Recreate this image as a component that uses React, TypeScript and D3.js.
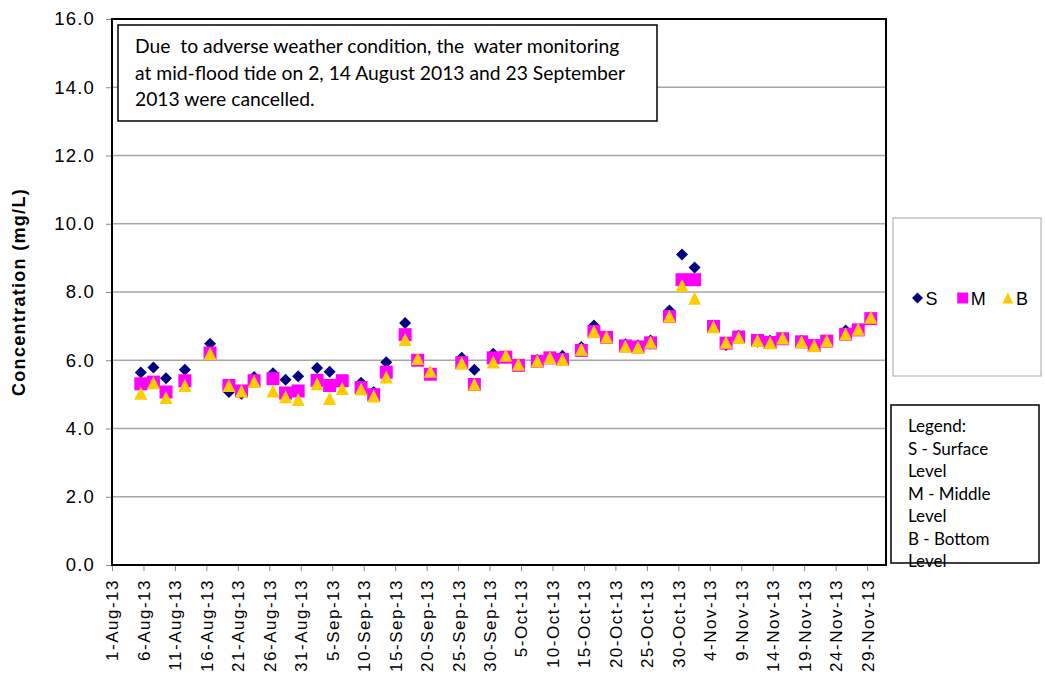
import React, { useRef, useEffect } from "react";
import * as d3 from "d3";

// sampling dates (monitoring at mid-flood tide, Mon/Wed/Fri)
const dates = [
  "2013-08-05", "2013-08-07", "2013-08-09", "2013-08-12", "2013-08-16",
  "2013-08-19", "2013-08-21", "2013-08-23", "2013-08-26", "2013-08-28",
  "2013-08-30", "2013-09-02", "2013-09-04", "2013-09-06", "2013-09-09",
  "2013-09-11", "2013-09-13", "2013-09-16", "2013-09-18", "2013-09-20",
  "2013-09-25", "2013-09-27", "2013-09-30", "2013-10-02", "2013-10-04",
  "2013-10-07", "2013-10-09", "2013-10-11", "2013-10-14", "2013-10-16",
  "2013-10-18", "2013-10-21", "2013-10-23", "2013-10-25", "2013-10-28",
  "2013-10-30", "2013-11-01", "2013-11-04", "2013-11-06", "2013-11-08",
  "2013-11-11", "2013-11-13", "2013-11-15", "2013-11-18", "2013-11-20",
  "2013-11-22", "2013-11-25", "2013-11-27", "2013-11-29",
];
const sampleHour = 14;

const surface = [
  5.64, 5.79, 5.47, 5.72, 6.48, 5.07, 5.02, 5.51, 5.62, 5.43,
  5.53, 5.77, 5.66, 5.4, 5.34, 5.07, 5.94, 7.09, 6.02, 5.62,
  6.07, 5.72, 6.19, 6.1, 5.87, 6.01, 6.09, 6.13, 6.39, 7.02,
  6.68, 6.47, 6.43, 6.58, 7.46, 9.1, 8.72, 7.02, 6.45, 6.72,
  6.54, 6.57, 6.64, 6.57, 6.44, 6.56, 6.87, 6.9, 7.25,
];
const middle = [
  5.31, 5.36, 5.07, 5.4, 6.21, 5.26, 5.1, 5.4, 5.46, 5.04,
  5.1, 5.41, 5.26, 5.4, 5.2, 4.99, 5.65, 6.75, 6.0, 5.59,
  5.93, 5.29, 6.07, 6.09, 5.85, 5.97, 6.07, 6.02, 6.29, 6.84,
  6.67, 6.42, 6.39, 6.51, 7.28, 8.36, 8.36, 6.99, 6.5, 6.68,
  6.58, 6.52, 6.63, 6.54, 6.43, 6.56, 6.76, 6.89, 7.22,
];
const bottom = [
  5.03, 5.34, 4.91, 5.26, 6.2, 5.26, 5.1, 5.38, 5.1, 4.93,
  4.85, 5.31, 4.88, 5.17, 5.16, 4.95, 5.51, 6.61, 6.05, 5.68,
  5.92, 5.3, 5.95, 6.15, 5.88, 5.98, 6.08, 6.02, 6.32, 6.84,
  6.68, 6.41, 6.38, 6.53, 7.29, 8.19, 7.82, 6.98, 6.53, 6.67,
  6.58, 6.51, 6.65, 6.54, 6.43, 6.57, 6.77, 6.91, 7.26,
];

const yTicks = [0, 2, 4, 6, 8, 10, 12, 14, 16];
const seriesNames = ["S", "M", "B"];
const noteLines = [
  "Due  to adverse weather condition, the  water monitoring",
  "at mid-flood tide on 2, 14 August 2013 and 23 September",
  "2013 were cancelled.",
];
const legendLines = [
  "Legend:",
  "S - Surface",
  "Level",
  "M - Middle",
  "Level",
  "B - Bottom",
  "Level",
];

const colors = { S: "#000080", M: "#FF00FF", B: "#FFCC00" };

const markerPath = (name, r) => {
  if (name === "S") return `M0,${-r}L${r},0L0,${r}L${-r},0Z`;
  if (name === "M") return `M${-r},${-r}H${r}V${r}H${-r}Z`;
  return `M0,${-r}L${r},${r}L${-r},${r}Z`;
};

const Chart = () => {
  const svgRef = useRef<SVGSVGElement>(null);

  useEffect(() => {
    const W = 1045;
    const H = 677;
    const plot = { left: 112, right: 886, top: 19, bottom: 565 };
    const arial = "'Liberation Sans', Arial, sans-serif";
    const calibri = "Lato, 'Open Sans', sans-serif";

    const svg = d3.select(svgRef.current).attr("width", W).attr("height", H);
    svg.selectAll("*").remove();

    const parse = d3.timeParse("%Y-%m-%d");
    const times = dates.map((d) => d3.timeHour.offset(parse(d), sampleHour));
    const start = new Date(2013, 7, 1);
    const end = new Date(2013, 11, 2);

    const x = d3.scaleTime().domain([start, end]).range([plot.left, plot.right]);
    const y = d3.scaleLinear().domain([0, 16]).range([plot.bottom, plot.top]);

    // gridlines
    svg
      .append("g")
      .selectAll("line")
      .data(yTicks.slice(1, -1))
      .enter()
      .append("line")
      .attr("x1", plot.left)
      .attr("x2", plot.right)
      .attr("y1", (d) => y(d))
      .attr("y2", (d) => y(d))
      .attr("stroke", "#a6a6a6")
      .attr("stroke-width", 1.3);

    // y axis
    const yAxis = svg
      .append("g")
      .attr("transform", `translate(${plot.left},0)`)
      .call(d3.axisLeft(y).tickValues(yTicks).tickFormat(d3.format(".1f")).tickSize(6).tickPadding(11));
    yAxis.select(".domain").remove();
    yAxis.selectAll(".tick line").attr("stroke", "#888");
    yAxis
      .selectAll(".tick text")
      .style("font-family", arial)
      .style("font-size", "18.5px")
      .style("letter-spacing", "1.2px")
      .attr("fill", "#000");

    // x axis
    const xTicks = d3.range(0, 121, 5).map((n) => d3.timeDay.offset(start, n));
    const xAxis = svg
      .append("g")
      .attr("transform", `translate(0,${plot.bottom})`)
      .call(d3.axisBottom(x).tickValues(xTicks).tickFormat(d3.timeFormat("%-d-%b-%y")).tickSize(6));
    xAxis.select(".domain").remove();
    xAxis.selectAll(".tick line").attr("stroke", "#888");
    xAxis
      .selectAll(".tick text")
      .style("font-family", arial)
      .style("font-size", "17px")
      .style("letter-spacing", "1.5px")
      .attr("fill", "#000")
      .attr("text-anchor", "end")
      .attr("transform", "rotate(-90)")
      .attr("x", -14)
      .attr("y", 0)
      .attr("dy", "0.35em");

    // plot border
    svg
      .append("rect")
      .attr("x", plot.left)
      .attr("y", plot.top)
      .attr("width", plot.right - plot.left)
      .attr("height", plot.bottom - plot.top)
      .attr("fill", "none")
      .attr("stroke", "#000")
      .attr("stroke-width", 2);

    // y title
    svg
      .append("text")
      .attr("transform", `translate(25,${(plot.top + plot.bottom) / 2}) rotate(-90)`)
      .attr("text-anchor", "middle")
      .style("font-family", arial)
      .style("font-weight", "bold")
      .style("font-size", "18px")
      .style("letter-spacing", "1.3px")
      .text("Concentration (mg/L)");

    // markers
    const series = [
      { name: "S", values: surface, r: 6 },
      { name: "M", values: middle, r: 6.5 },
      { name: "B", values: bottom, r: 6.5 },
    ];
    series.forEach((s) => {
      svg
        .append("g")
        .selectAll("path")
        .data(s.values)
        .enter()
        .append("path")
        .attr("transform", (d, i) => `translate(${x(times[i])},${y(d)})`)
        .attr("d", markerPath(s.name, s.r))
        .attr("fill", colors[s.name]);
    });

    // note box
    const note = svg.append("g");
    note
      .append("rect")
      .attr("x", 118)
      .attr("y", 25)
      .attr("width", 539)
      .attr("height", 96)
      .attr("fill", "#fff")
      .attr("stroke", "#000")
      .attr("stroke-width", 1.5);
    note
      .selectAll("text")
      .data(noteLines)
      .enter()
      .append("text")
      .attr("x", 135)
      .attr("y", (d, i) => 53 + i * 26.5)
      .style("font-family", calibri)
      .style("font-size", "19.3px")
      .style("white-space", "pre")
      .text((d) => d);

    // series legend
    const leg = svg.append("g");
    leg
      .append("rect")
      .attr("x", 893)
      .attr("y", 218)
      .attr("width", 148)
      .attr("height", 158)
      .attr("fill", "#fff")
      .attr("stroke", "#a6a6a6")
      .attr("stroke-width", 1);
    seriesNames.forEach((n, i) => {
      const cx = 917.5 + i * 45.2;
      leg
        .append("path")
        .attr("transform", `translate(${cx},298)`)
        .attr("d", markerPath(n, 5.5))
        .attr("fill", colors[n]);
      leg
        .append("text")
        .attr("x", cx + 8)
        .attr("y", 305)
        .style("font-family", arial)
        .style("font-size", "18px")
        .text(n);
    });

    // legend text box
    const lt = svg.append("g");
    lt.append("rect")
      .attr("x", 891)
      .attr("y", 405)
      .attr("width", 148)
      .attr("height", 158)
      .attr("fill", "#fff")
      .attr("stroke", "#000")
      .attr("stroke-width", 1.5);
    lt.selectAll("text")
      .data(legendLines)
      .enter()
      .append("text")
      .attr("x", 908)
      .attr("y", (d, i) => 432 + i * 22.5)
      .style("font-family", calibri)
      .style("font-size", "17px")
      .text((d) => d);
  }, []);

  return <svg ref={svgRef} style={{ position: "absolute", left: 0, top: 0 }}></svg>;
};

export default function App() {
  return <Chart />;
}
